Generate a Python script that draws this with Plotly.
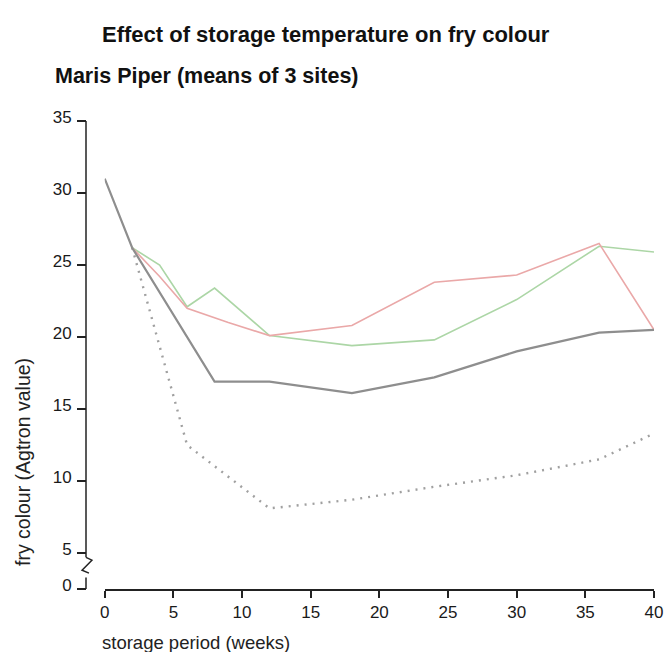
import plotly.graph_objects as go

# ---- data ----
weeks_grey = [0, 2, 8, 12, 18, 24, 30, 36, 40]
fry_grey = [31.0, 26.2, 16.9, 16.9, 16.1, 17.2, 19.0, 20.3, 20.5]

weeks_pink = [2, 4, 6, 9, 12, 18, 24, 30, 36, 40]
fry_pink = [26.2, 24.2, 22.0, 21.0, 20.1, 20.8, 23.8, 24.3, 26.5, 20.5]

weeks_green = [2, 4, 6, 8, 12, 18, 24, 30, 36, 40]
fry_green = [26.2, 25.0, 22.1, 23.4, 20.1, 19.4, 19.8, 22.6, 26.3, 25.9]

weeks_dot = [2, 6, 9, 12, 18, 24, 30, 36, 40]
fry_dot = [26.2, 12.5, 10.3, 8.1, 8.7, 9.6, 10.4, 11.5, 13.3]

x_ticks = [0, 5, 10, 15, 20, 25, 30, 35, 40]
y_ticks = [5, 10, 15, 20, 25, 30, 35]
y_zero_pos = 2.5  # where the "0" tick sits below the axis break

title = "Effect of storage temperature on fry colour"
subtitle = "Maris Piper (means of 3 sites)"
x_title = "storage period (weeks)"
y_title = "fry colour (Agtron value)"

# ---- layout geometry (page body adds an 8px offset) ----
OFF = 8
W, H = 672 - OFF, 652 - OFF
L = 86 - OFF
T = 121 - OFF
R = W - (663 - OFF)
B = H - (589 - OFF)
pw = W - L - R
ph = H - T - B


def px_x(px):
    return (px - OFF - L) / pw


def px_y(py):
    return (H - B - (py - OFF)) / ph


fig = go.Figure()
fig.add_trace(go.Scatter(x=weeks_dot, y=fry_dot, mode="lines",
                         line=dict(color="#a0a0a0", width=2.4, dash="2px,6px"),
                         showlegend=False))
fig.add_trace(go.Scatter(x=weeks_green, y=fry_green, mode="lines",
                         line=dict(color="#acd6a6", width=1.6), showlegend=False))
fig.add_trace(go.Scatter(x=weeks_pink, y=fry_pink, mode="lines",
                         line=dict(color="#eaa8a8", width=1.6), showlegend=False))
fig.add_trace(go.Scatter(x=weeks_grey, y=fry_grey, mode="lines",
                         line=dict(color="#8e8e8e", width=2.2), showlegend=False))

axis_font = dict(family="Liberation Sans, Arial, sans-serif", size=17, color="#1a1a1a")

fig.update_layout(
    width=W, height=H,
    margin=dict(l=L, r=R, t=T, b=B),
    paper_bgcolor="white", plot_bgcolor="white",
    xaxis=dict(domain=[px_x(105), 1], range=[0, 40], tickvals=x_ticks,
               ticks="outside", ticklen=7, tickwidth=1.5, tickcolor="#222",
               showline=True, linecolor="#222", linewidth=1.5,
               showgrid=False, zeroline=False, tickfont=axis_font,
               ticklabeloverflow="allow"),
    yaxis=dict(range=[y_zero_pos, 35], anchor="free", position=0,
               tickvals=[y_zero_pos] + y_ticks,
               ticktext=["0"] + [str(v) for v in y_ticks],
               ticks="outside", ticklen=9, tickwidth=1.5, tickcolor="#222",
               showline=False, showgrid=False, zeroline=False,
               tickfont=axis_font, ticklabelshift=-4, ticklabelstandoff=2,
               ticklabeloverflow="allow"),
)

# y axis line with break (decoration)
line_style = dict(color="#222", width=1.5)
fig.add_shape(type="line", xref="paper", yref="y", x0=0, x1=0, y0=35, y1=4.7, line=line_style)
fig.add_shape(type="path", xref="paper", yref="y",
              path=(f"M 0 4.7 L {6/pw} 4.5 L {-4/pw} 3.8 L {3/pw} 3.6"),
              line=line_style)
fig.add_shape(type="line", xref="paper", yref="y", x0=0, x1=0, y0=3.3, y1=y_zero_pos, line=line_style)

# texts
bold_font = dict(family="Liberation Sans Narrow, Arial Narrow, sans-serif", size=22, color="#111")
fig.add_annotation(text=f"<b>{title}</b>", xref="paper", yref="paper",
                   x=px_x(100), y=px_y(34), xanchor="left", yanchor="middle",
                   showarrow=False, font=bold_font)
fig.add_annotation(text=f"<b>{subtitle}</b>", xref="paper", yref="paper",
                   x=px_x(52), y=px_y(76), xanchor="left", yanchor="middle",
                   showarrow=False, font=dict(bold_font, size=21.5))
label_font = dict(family="Liberation Sans, Arial, sans-serif", size=18.5, color="#222")
fig.add_annotation(text=x_title, xref="paper", yref="paper",
                   x=px_x(100), y=px_y(642), xanchor="left", yanchor="middle",
                   showarrow=False, font=label_font)
fig.add_annotation(text=y_title, xref="paper", yref="paper",
                   x=px_x(22), y=px_y(462), xanchor="center", yanchor="middle",
                   textangle=-90, showarrow=False, font=dict(label_font, size=19.5))

fig.write_html("out.html")
